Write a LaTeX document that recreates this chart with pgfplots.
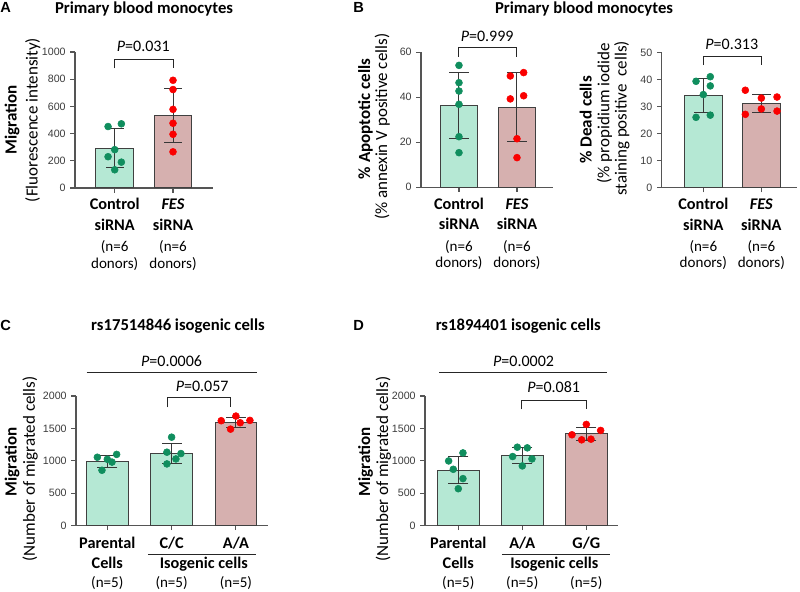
\documentclass[border=0pt]{standalone}
\usepackage{pgfplots}
\pgfplotsset{compat=1.18}
\usepackage{fontspec}
\setmainfont{Carlito}
\newfontfamily\arialf{Liberation Sans}

\definecolor{mint}{RGB}{181,232,212}
\definecolor{rose}{RGB}{214,176,175}
\definecolor{edge}{RGB}{64,64,64}
\definecolor{errc}{RGB}{55,55,55}
\definecolor{dotgreen}{RGB}{16,142,94}
\definecolor{dotred}{RGB}{250,0,0}
\definecolor{axisgray}{RGB}{85,85,85}
\definecolor{tickgray}{RGB}{60,60,60}

\tikzset{
  ttl/.style={font=\bfseries\fontsize{12.5}{15}\selectfont, anchor=base, inner sep=0pt},
  letter/.style={font=\arialf\bfseries\fontsize{11}{13}\selectfont, anchor=base west, inner sep=0pt},
  ylb/.style={font=\bfseries\fontsize{12.75}{15}\selectfont, rotate=90, anchor=base, inner sep=0pt},
  ylr/.style={font=\fontsize{12.75}{15}\selectfont, rotate=90, anchor=base, inner sep=0pt},
  lab/.style={font=\bfseries\fontsize{12.2}{15}\selectfont, anchor=base, inner sep=0pt},
  nlab/.style={font=\fontsize{11.3}{13}\selectfont, anchor=base, inner sep=0pt},
  pval/.style={font=\fontsize{12}{14}\selectfont, anchor=base, inner sep=0pt},
  brk/.style={draw=black!85, line width=0.75pt},
}

\pgfplotsset{
  panel/.style={
    scale only axis, anchor=south west, clip=false,
    axis x line=bottom, axis y line=left,
    axis line style={-, draw=axisgray, line width=0.8pt},
    every tick/.style={draw=axisgray, line width=0.8pt},
    tick align=outside, major tick length=3.5pt,
    ymin=0, xticklabels={,,,},
    yticklabel style={font=\arialf\fontsize{8}{9}\selectfont, text=tickgray},
    /pgf/number format/assume math mode=true,
    /pgf/number format/1000 sep={},
  },
  mybar/.style={ybar, bar shift=0pt, bar width=0.65, draw=edge, line width=0.75pt, forget plot},
  % vertical part of the error bars (mean +- SD)
  errb/.style={draw=none, mark=none, forget plot,
    error bars/.cd, y dir=both, y explicit, error mark=none,
    error bar style={draw=errc, line width=0.75pt, solid}},
  % horizontal caps at mean +- SD
  capb/.style={only marks, mark=-, mark size=#1, mark options={draw=errc, line width=0.75pt}, forget plot},
  gdot/.style={only marks, mark=*, mark size=2.6pt, mark options={fill=dotgreen, draw=dotgreen}, forget plot},
  rdot/.style={only marks, mark=*, mark size=2.6pt, mark options={fill=dotred, draw=dotred}, forget plot},
}

% bracket between two bars: x1, x2, top, foot
\newcommand{\bracket}[4]{\draw[brk] (axis cs:#1,#4) -- (axis cs:#1,#3) -- (axis cs:#2,#3) -- (axis cs:#2,#4);}
% four-line category label under panels A and B
\newcommand{\catlab}[5]{%
  \node[lab] at ([yshift=-16.5pt]axis cs:#1,0) {#2};
  \node[lab] at ([yshift=-32pt]axis cs:#1,0) {#3};
  \node[nlab] at ([yshift=-48pt]axis cs:#1,0) {#4};
  \node[nlab] at ([yshift=-60.2pt]axis cs:#1,0) {#5};}

\begin{document}
\begin{tikzpicture}
\path[use as bounding box] (0,0) rectangle (600pt,444pt);

% ---- A: migration, primary monocytes
\begin{axis}[panel, at={(56.25pt,303pt)}, width=103.5pt, height=102pt,
  xmin=-0.681, xmax=1.686, ymax=1000, xtick={0,1}, ytick={0,200,...,1000}]
  \addplot[mybar, fill=mint] coordinates {(0,293)};
  \addplot[mybar, fill=rose] coordinates {(1,536)};
  \addplot[errb] coordinates {(0,293) +- (0,141) (1,536) +- (0,199)};
  \addplot[capb=6.6pt] coordinates {(0,434) (0,152) (1,735) (1,337)};
  \addplot[gdot] coordinates {(-0.114,452) (0.114,472) (0,282) (-0.114,230) (0.114,190) (0,134)};
  \addplot[rdot] coordinates {(1,792) (1,724) (1,578) (1,476) (1,395) (1,266)};
  \bracket{0}{1}{948}{880}
  \node[pval] at (axis cs:0.49,1000) {\textit{P}=0.031};
  \catlab{0}{Control}{siRNA}{(n=6}{donors)}
  \catlab{1}{\textit{FES}}{siRNA}{(n=6}{donors)}
\end{axis}

% ---- B: apoptotic cells
\begin{axis}[panel, at={(315.75pt,303.5pt)}, width=99pt, height=101.25pt,
  xmin=-0.655, xmax=1.621, ymax=60, xtick={0,1}, ytick={0,20,40,60}]
  \addplot[mybar, fill=mint] coordinates {(0,36.3)};
  \addplot[mybar, fill=rose] coordinates {(1,35.7)};
  \addplot[errb] coordinates {(0,36.3) +- (0,14.7) (1,35.7) +- (0,15.35)};
  \addplot[capb=7.5pt] coordinates {(0,51.0) (0,21.6) (1,51.05) (1,20.35)};
  \addplot[gdot] coordinates {(0,54.2) (0,46.5) (0,42.8) (0,36.9) (0,22.5) (0,15.4)};
  \addplot[rdot] coordinates {(0.885,49.5) (1.115,51.0) (0.885,39.3) (1.115,40.7) (1,21.6) (1,13.2)};
  \bracket{0}{1}{62}{58}
  \node[pval] at (axis cs:0.486,65) {\textit{P}=0.999};
  \catlab{0}{Control}{siRNA}{(n=6}{donors)}
  \catlab{1}{\textit{FES}}{siRNA}{(n=6}{donors)}
\end{axis}

% ---- B: dead cells
\begin{axis}[panel, at={(496.3pt,303.2pt)}, width=101.25pt, height=101.55pt,
  xmin=-0.717, xmax=1.61, ymax=50, xtick={0,1}, ytick={0,10,...,50}]
  \addplot[mybar, fill=mint] coordinates {(0,34.0)};
  \addplot[mybar, fill=rose] coordinates {(1,31.0)};
  \addplot[errb] coordinates {(0,34.0) +- (0,6.3) (1,31.0) +- (0,3.4)};
  \addplot[capb=7pt] coordinates {(0,40.3) (0,27.7) (1,34.4) (1,27.6)};
  \addplot[gdot] coordinates {(0.12,41.0) (-0.126,39.3) (0.12,37.6) (0,34.4) (-0.126,26.0) (0.12,26.8)};
  \addplot[rdot] coordinates {(0.724,36.0) (1,33.1) (1.27,33.5) (0.724,27.1) (1,29.1) (1.27,28.3)};
  \bracket{0}{1}{48.4}{45.3}
  \node[pval] at (axis cs:0.49,50.9) {\textit{P}=0.313};
  \catlab{0}{Control}{siRNA}{(n=6}{donors)}
  \catlab{1}{\textit{FES}}{siRNA}{(n=6}{donors)}
\end{axis}

% ---- C: rs17514846
\begin{axis}[panel, at={(57pt,49.875pt)}, width=143.8pt, height=97.125pt,
  xmin=-0.487, xmax=2.495, ymax=2000, xtick={0,1,2}, ytick={0,500,...,2000}]
  \addplot[mybar, fill=mint] coordinates {(0,990) (1,1111)};
  \addplot[mybar, fill=rose] coordinates {(2,1592)};
  \addplot[errb] coordinates {(0,990) +- (0,92) (1,1111) +- (0,158) (2,1592) +- (0,75)};
  \addplot[capb=7.5pt] coordinates {(0,1082) (0,898) (1,1269) (1,953) (2,1667) (2,1517)};
  \addplot[gdot] coordinates {(-0.155,1054) (0.145,1098) (0,1023) (0.073,979) (-0.083,853)
    (1,1364) (0.927,1132) (1.145,1111) (1.067,1028) (0.927,951)};
  \addplot[rdot] coordinates {(2,1690) (1.772,1618) (2.218,1623) (2.067,1587) (1.917,1488)};
  \bracket{0.93}{1.92}{1972}{1826}
  \node[pval] at (axis cs:1.476,2066) {\textit{P}=0.057};
  \draw[brk] (axis cs:-0.32,2360) -- (axis cs:2.33,2360);
  \node[pval] at (axis cs:1.0,2452) {\textit{P}=0.0006};
  \node[lab] at ([yshift=-16.9pt]axis cs:0,0) {Parental};
  \node[lab] at ([yshift=-32.25pt]axis cs:0,0) {Cells};
  \node[lab] at ([yshift=-16.9pt]axis cs:1,0) {C/C};
  \node[lab] at ([yshift=-16.9pt]axis cs:2,0) {A/A};
  \draw[brk] ([yshift=-21.4pt]axis cs:0.63,0) -- ([yshift=-21.4pt]axis cs:2.32,0);
  \node[lab] at ([yshift=-32.25pt]axis cs:1.5,0) {Isogenic cells};
  \node[nlab] at ([yshift=-46.5pt]axis cs:0,0) {(n=5)};
  \node[nlab] at ([yshift=-46.5pt]axis cs:1,0) {(n=5)};
  \node[nlab] at ([yshift=-46.5pt]axis cs:2,0) {(n=5)};
\end{axis}

% ---- D: rs1894401
\begin{axis}[panel, at={(318.75pt,49.875pt)}, width=144.75pt, height=97.125pt,
  xmin=-0.52, xmax=2.495, ymax=2000, xtick={0,1,2}, ytick={0,500,...,2000}]
  \addplot[mybar, fill=mint] coordinates {(0,853) (1,1080)};
  \addplot[mybar, fill=rose] coordinates {(2,1416)};
  \addplot[errb] coordinates {(0,853) +- (0,212) (1,1080) +- (0,119) (2,1416) +- (0,98)};
  \addplot[capb=7.5pt] coordinates {(0,1065) (0,641) (1,1199) (1,961) (2,1514) (2,1318)};
  \addplot[gdot] coordinates {(0.073,1121) (-0.151,997) (-0.078,868) (0.073,724) (0,568)
    (0.922,1209) (1.078,1199) (0.849,1065) (1.151,1028) (1,920)};
  \addplot[rdot] coordinates {(2,1561) (1.776,1401) (2.224,1468) (1.927,1323) (2.073,1333)};
  \bracket{0.99}{2}{1938}{1795}
  \node[pval] at (axis cs:1.49,2057) {\textit{P}=0.081};
  \draw[brk] (axis cs:-0.30,2360) -- (axis cs:2.33,2360);
  \node[pval] at (axis cs:1.02,2452) {\textit{P}=0.0002};
  \node[lab] at ([yshift=-16.9pt]axis cs:0,0) {Parental};
  \node[lab] at ([yshift=-32.25pt]axis cs:0,0) {Cells};
  \node[lab] at ([yshift=-16.9pt]axis cs:1,0) {A/A};
  \node[lab] at ([yshift=-16.9pt]axis cs:2,0) {G/G};
  \draw[brk] ([yshift=-21.4pt]axis cs:0.68,0) -- ([yshift=-21.4pt]axis cs:2.37,0);
  \node[lab] at ([yshift=-32.25pt]axis cs:1.5,0) {Isogenic cells};
  \node[nlab] at ([yshift=-46.5pt]axis cs:0,0) {(n=5)};
  \node[nlab] at ([yshift=-46.5pt]axis cs:1,0) {(n=5)};
  \node[nlab] at ([yshift=-46.5pt]axis cs:2,0) {(n=5)};
\end{axis}

% ---- titles, panel letters and axis labels (positions in pixels of the reference)
\begin{scope}[shift={(0,444pt)}, x=0.75pt, y=-0.75pt]
  \node[letter] at (0,12.3) {A};
  \node[ttl] at (144,13.3) {Primary blood monocytes};
  \node[letter] at (353,12.3) {B};
  \node[ttl] at (584,13.3) {Primary blood monocytes};
  \node[letter] at (0,330.7) {C};
  \node[ttl] at (178,330.7) {rs17514846 isogenic cells};
  \node[letter] at (353,330.7) {D};
  \node[ttl] at (518.3,330.7) {rs1894401 isogenic cells};

  \node[ylb] at (16.7,120) {Migration};
  \node[ylr] at (37.7,120) {(Fluorescence intensity)};
  \node[ylb] at (370,119) {\% Apoptotic cells};
  \node[ylr] at (387,126.7) {(\% annexin V positive cells)};
  \node[ylb] at (591.5,120) {\% Dead cells};
  \node[ylr] at (609.3,113.3) {(\% propidium iodide};
  \node[ylr] at (626.7,118.3) {staining positive\ \ cells)};
  \node[ylb] at (16.7,461.7) {Migration};
  \node[ylr] at (35,469) {(Number of migrated cells)};
  \node[ylb] at (370,461.7) {Migration};
  \node[ylr] at (388,469) {(Number of migrated cells)};
\end{scope}
\end{tikzpicture}
\end{document}
